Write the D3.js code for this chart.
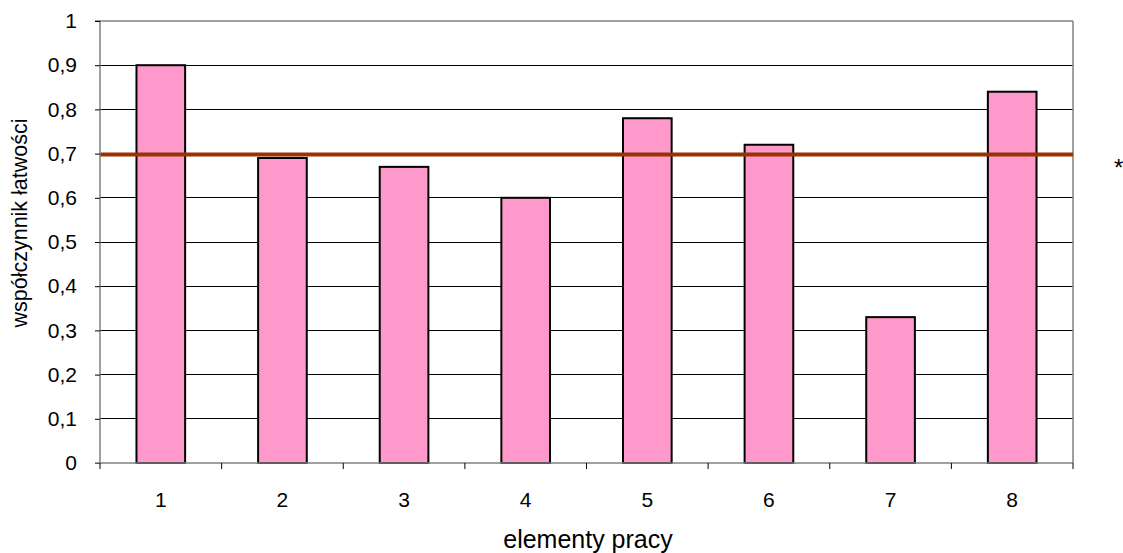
<!DOCTYPE html>
<html><head><meta charset="utf-8">
<script src="https://cdn.jsdelivr.net/npm/d3@7"></script>
<style>body{margin:0;background:#fff;overflow:hidden}svg{display:block}text{font-family:"Liberation Sans",Arial,sans-serif;fill:#000}</style>
</head><body>
<script>
const categories = ["1","2","3","4","5","6","7","8"];
const values = [0.90, 0.69, 0.67, 0.60, 0.78, 0.72, 0.33, 0.84];
const threshold = [0.698];
const yTicks = [0,0.1,0.2,0.3,0.4,0.5,0.6,0.7,0.8,0.9,1];
const yTickLabels = ["0","0,1","0,2","0,3","0,4","0,5","0,6","0,7","0,8","0,9","1"];

const W=1123,H=553, L=100,R=1073,T=21,B=463;
const svg=d3.select("body").append("svg").attr("width",W).attr("height",H);
const x=d3.scaleBand().domain(categories).range([L,R]).paddingInner(0.6).paddingOuter(0.3);
const y=d3.scaleLinear().domain([0,1]).range([B,T]);

// gridlines
svg.append("g").selectAll("line").data(yTicks.filter(d=>d>0&&d<1)).join("line")
  .attr("x1",L).attr("x2",R).attr("y1",d=>y(d)).attr("y2",d=>y(d))
  .attr("stroke","#000").attr("stroke-width",1).attr("shape-rendering","crispEdges");
// plot border top/right
svg.append("line").attr("x1",L).attr("x2",R).attr("y1",T).attr("y2",T).attr("stroke","#808080").attr("stroke-width",1.5);
svg.append("line").attr("x1",R).attr("x2",R).attr("y1",T).attr("y2",B).attr("stroke","#808080").attr("stroke-width",1.5);

// bars
svg.append("g").selectAll("rect").data(values).join("rect")
  .attr("x",(d,i)=>x(categories[i])).attr("width",x.bandwidth())
  .attr("y",d=>y(d)).attr("height",d=>B-y(d))
  .attr("fill","#FF99CC").attr("stroke","#000").attr("stroke-width",2);

// threshold line
svg.append("g").selectAll("line").data(threshold).join("line")
  .attr("x1",L).attr("x2",R).attr("y1",d=>y(d)).attr("y2",d=>y(d))
  .attr("stroke","#993300").attr("stroke-width",4);

// y axis
const yAxis=d3.axisLeft(y).tickValues(yTicks).tickFormat((d,i)=>yTickLabels[i]).tickSize(5).tickPadding(18);
const gy=svg.append("g").attr("transform",`translate(${L},0)`).call(yAxis);
gy.select(".domain").attr("stroke","#808080").attr("stroke-width",1.5).attr("d",`M-5,${T}H0V${B}`);
gy.selectAll(".tick line").attr("stroke","#000");
gy.selectAll(".tick text").style("font-size","21px").attr("font-family","Liberation Sans, Arial, sans-serif");

// x axis
const xEdge=d3.scaleLinear().domain([0,8]).range([L,R]);
const gx=svg.append("g").attr("transform",`translate(0,${B})`);
gx.append("line").attr("x1",L-5).attr("x2",R).attr("y1",0).attr("y2",0).attr("stroke","#808080").attr("stroke-width",1.5);
gx.selectAll("line.t").data(d3.range(0,9)).join("line").attr("class","t")
  .attr("x1",d=>xEdge(d)).attr("x2",d=>xEdge(d)).attr("y1",0).attr("y2",6).attr("stroke","#000");
gx.selectAll("text").data(categories).join("text")
  .attr("x",d=>x(d)+x.bandwidth()/2).attr("y",44).attr("text-anchor","middle").style("font-size","21px").text(d=>d);

// titles
svg.append("text").attr("x",588).attr("y",548).attr("text-anchor","middle").style("font-size","25px").text("elementy pracy");
svg.append("text").attr("transform",`translate(27,223) rotate(-90)`).attr("text-anchor","middle").style("font-size","21.5px").text("współczynnik łatwości");
svg.append("text").attr("x",1114).attr("y",176).attr("text-anchor","start").style("font-size","24px").text("*");
</script>
</body></html>
